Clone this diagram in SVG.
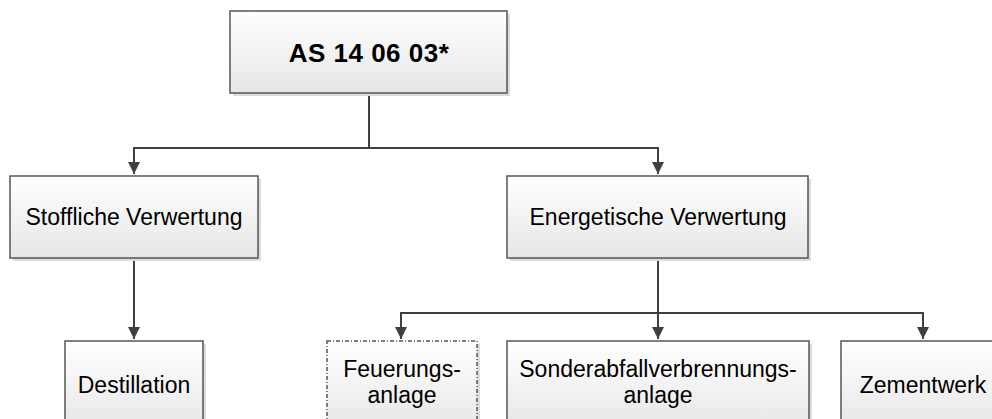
<svg xmlns="http://www.w3.org/2000/svg" width="992" height="419" viewBox="0 0 992 419">
<defs>
<linearGradient id="g" x1="0" y1="0" x2="0" y2="1">
<stop offset="0" stop-color="#ffffff"/>
<stop offset="1" stop-color="#e6e6e6"/>
</linearGradient>
<marker id="ah" markerWidth="12" markerHeight="12" refX="12" refY="6" orient="auto" markerUnits="userSpaceOnUse">
<path d="M0,0 L12,6 L0,12 Z" fill="#404040"/>
</marker>
</defs>
<style>
.box{fill:url(#g);stroke:#555555;stroke-width:1.5}
.sh{fill:#dcdcdc}
.dash{stroke-dasharray:4 2 1 2}
.t{font-family:"Liberation Sans",Arial,sans-serif;font-size:23px;fill:#000;text-anchor:middle}
.b{font-weight:bold;font-size:26px;letter-spacing:0.5px}
.c{fill:none;stroke:#404040;stroke-width:2}
</style>
<rect width="992" height="419" fill="#ffffff"/>
<g id="connectors">
<path class="c" d="M369,93 V148 H134 V174" marker-end="url(#ah)"/>
<path class="c" d="M369,148 H658 V174" marker-end="url(#ah)"/>
<path class="c" d="M134,258 V339" marker-end="url(#ah)"/>
<path class="c" d="M658,258 V313 H401 V339" marker-end="url(#ah)"/>
<path class="c" d="M658,313 V339" marker-end="url(#ah)"/>
<path class="c" d="M658,313 H923 V339" marker-end="url(#ah)"/>
</g>
<g id="n_top">
<rect class="sh" x="233" y="14" width="277" height="82"/>
<rect class="box" x="230" y="11" width="277" height="82"/>
<text class="t b" x="369" y="62">AS 14 06 03*</text>
</g>
<g id="n_stoff">
<rect class="sh" x="13" y="179" width="248" height="82"/>
<rect class="box" x="10" y="176" width="248" height="82"/>
<text class="t" x="134" y="225">Stoffliche Verwertung</text>
</g>
<g id="n_energ">
<rect class="sh" x="510" y="179" width="301" height="82"/>
<rect class="box" x="507" y="176" width="301" height="82"/>
<text class="t" x="658" y="225">Energetische Verwertung</text>
</g>
<g id="n_dest">
<rect class="sh" x="68" y="344" width="138" height="90"/>
<rect class="box" x="65" y="341" width="138" height="90"/>
<text class="t" x="134" y="393">Destillation</text>
</g>
<g id="n_feuer">
<rect class="sh" x="330" y="344" width="150" height="90"/>
<rect class="box dash" x="327" y="341" width="150" height="90"/>
<text class="t" x="402" y="377">Feuerungs-</text>
<text class="t" x="402" y="403">anlage</text>
</g>
<g id="n_sonder">
<rect class="sh" x="510" y="344" width="302" height="90"/>
<rect class="box" x="507" y="341" width="302" height="90"/>
<text class="t" x="658" y="377">Sonderabfallverbrennungs-</text>
<text class="t" x="658" y="403">anlage</text>
</g>
<g id="n_zement">
<rect class="sh" x="844" y="344" width="164" height="90"/>
<rect class="box" x="841" y="341" width="164" height="90"/>
<text class="t" x="923" y="393">Zementwerk</text>
</g>
</svg>
